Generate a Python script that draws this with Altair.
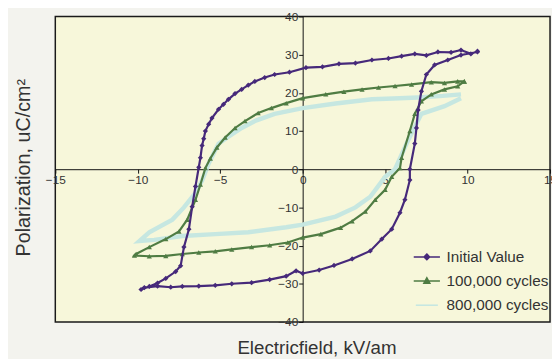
import altair as alt
import pandas as pd

# ---- data ----
series_names = ["Initial Value", "100,000 cycles", "800,000 cycles"]
series_colors = ["#46297a", "#4f7c43", "#c6e7e1"]

x_ticks = [-15, -10, -5, 0, 5, 10, 15]
y_ticks = [-40, -30, -20, -10, 0, 10, 20, 30, 40]

init_E = [10.6, 10.2, 9.6, 9.0, 8.2, 7.5, 6.8, 6.0, 5.2, 4.2, 3.2, 2.2, 1.2, 0.2, -0.8, -1.7,
          -2.3, -2.9, -3.3, -3.7, -4.1, -4.5, -4.8, -5.1, -5.5, -5.7, -5.9, -6.0, -6.1, -6.2,
          -6.3, -6.5, -6.7, -6.9, -7.2, -7.4, -7.7, -8.3, -8.8, -9.3, -9.8,
          -9.6, -8.8, -8.0, -7.3, -6.3, -5.3, -4.3, -3.1, -2.0, -1.0, -0.4, 0.0, 1.0, 1.9, 3.0,
          4.1, 4.8, 5.4, 5.9, 6.2, 6.5, 6.5, 6.8, 6.9, 7.0, 7.2, 7.5, 8.0, 8.8, 9.6, 10.6]
init_P = [30.9, 30.2, 31.2, 30.6, 30.7, 29.8, 30.2, 29.6, 29.0, 28.6, 27.8, 27.6, 26.8, 26.6, 25.4, 24.8,
          24.0, 23.0, 22.0, 20.9, 19.8, 18.3, 17.0, 15.7, 13.4, 11.8, 10.0, 8.0, 6.2, 3.0,
          0.5, -4.5, -9.8, -15.7, -20.4, -25.3, -26.8, -28.6, -29.8, -30.7, -31.5,
          -31.0, -30.6, -30.9, -30.7, -30.6, -30.4, -30.0, -29.7, -28.9, -28.0, -26.6, -27.3, -26.4, -25.2, -23.5,
          -21.4, -18.3, -15.7, -11.4, -8.0, -2.8, 0.0, 6.7, 10.8, 15.5, 20.4, 24.8, 27.3, 28.6, 29.9, 30.7]

k100_E = [9.8, 9.4, 8.6, 7.8, 6.6, 5.6, 4.6, 3.6, 2.5, 1.4, 0.0, -1.0, -1.9, -2.7, -3.5, -4.1,
          -4.7, -5.2, -5.6, -5.9, -6.2, -6.5, -7.0, -7.5, -8.3, -9.3, -10.1, -10.2,
          -9.3, -8.3, -7.3, -6.3, -5.3, -4.3, -3.1, -2.0, -0.9, 0.0, 1.1, 2.3, 3.0, 3.8,
          4.4, 5.0, 5.4, 5.9, 6.0, 6.5, 6.8, 7.2, 7.8, 8.6, 9.4, 9.8]
k100_P = [23.0, 23.0, 22.6, 22.8, 22.2, 21.8, 21.4, 20.9, 20.3, 19.6, 18.6, 17.3, 16.0, 14.7, 12.6, 10.8,
          8.3, 5.7, 2.8, 0.3, -4.0, -8.0, -13.2, -16.3, -18.3, -20.4, -22.2, -22.6,
          -22.8, -22.7, -22.2, -21.8, -21.5, -21.0, -20.4, -19.9, -19.2, -17.9, -17.0, -15.3, -13.6, -11.1,
          -8.0, -5.4, -2.0, 0.3, 3.0, 10.0, 14.5, 17.8, 19.6, 20.9, 21.7, 23.0]

k800_E = [9.6, 8.5, 7.0, 5.5, 4.2, 2.0, 0.0, -1.7, -2.8, -3.7, -4.5, -5.1, -5.7, -6.1, -6.5,
          -7.2, -7.9, -9.3, -9.9,
          -9.0, -7.3, -5.3, -3.3, -1.0, 0.0, 2.0, 3.2, 4.1, 5.0, 5.6, 6.3, 7.2, 8.6, 9.6]
k800_P = [19.6, 19.2, 18.8, 18.5, 18.3, 17.2, 16.0, 14.5, 12.8, 10.8, 8.5, 6.7, 1.5, -3.0, -6.2,
          -10.0, -13.2, -16.5, -18.8,
          -18.5, -17.5, -17.0, -16.5, -15.2, -14.5, -12.4, -10.0, -7.2, -2.0, 0.0, 6.7, 14.5, 16.5, 18.6]

# legend symbols: a short line with the series marker on it
legend_shapes = ["M-1.9,0H1.9M0,-0.4L0.4,0L0,0.4L-0.4,0Z",
                 "M-1.9,0H1.9M0,-0.45L0.42,0.3L-0.42,0.3Z",
                 "M-1.6,0H1.6"]

# ---- table ----
rows = []
for name, es, ps in [(series_names[2], k800_E, k800_P),
                     (series_names[1], k100_E, k100_P),
                     (series_names[0], init_E, init_P)]:
    for i, (e, p) in enumerate(zip(es, ps)):
        rows.append({"E": e, "P": p, "series": name, "idx": i})
df = pd.DataFrame(rows)

FONT = "Liberation Sans"
W, H = 502, 310

x_axis = alt.Axis(orient="bottom", offset=-155, values=x_ticks, grid=False,
                  tickSize=4, tickColor="#111", domainColor="#111", domainWidth=1,
                  labelFlush=False, labelOverlap=False, labelPadding=2, labelFontSize=12,
                  labelColor="#333", labelFont=FONT,
                  title="Electricfield, kV/am", titleX=265, titleY=181,
                  titleBaseline="middle", titleFontSize=19, titleFontWeight="normal",
                  titleColor="#333", titleFont=FONT)
y_axis = alt.Axis(orient="left", offset=-251, values=y_ticks, grid=False,
                  tickSize=4, tickColor="#111", domainColor="#111", domainWidth=1,
                  labelOverlap=False, labelFlush=False,
                  labelPadding=1, labelFontSize=12, labelColor="#333", labelFont=FONT,
                  title="Polarization, uC/cm²", titleX=-283, titleY=153,
                  titleAngle=270, titleAlign="center", titleBaseline="middle",
                  titleFontSize=20, titleFontWeight="normal",
                  titleColor="#333", titleFont=FONT)

x_enc = alt.X("E:Q", scale=alt.Scale(domain=[-15, 15], nice=False, zero=False), axis=x_axis)
y_enc = alt.Y("P:Q", scale=alt.Scale(domain=[-40, 40], nice=False, zero=False), axis=y_axis)

leg = alt.Legend(orient="none", legendX=369, legendY=236, title=None,
                 padding=0, symbolSize=196, labelOffset=12, symbolStrokeWidth=1.6,
                 symbolOpacity=1, rowPadding=7.5, labelFont=FONT, labelFontSize=15.5,
                 labelColor="#333")

color_scale = alt.Scale(domain=series_names, range=series_colors)
color_enc = alt.Color("series:N", scale=color_scale, legend=leg)


def subset(name):
    return alt.Chart(df).transform_filter(alt.datum.series == name)


line800 = subset(series_names[2]).mark_line(strokeWidth=4.5).encode(
    x=x_enc, y=y_enc, color=color_enc, order="idx:Q")
line100 = subset(series_names[1]).mark_line(strokeWidth=2.2).encode(
    x=x_enc, y=y_enc, color=color_enc, order="idx:Q")
lineInit = subset(series_names[0]).mark_line(strokeWidth=2.2).encode(
    x=x_enc, y=y_enc, color=color_enc, order="idx:Q")

pts100 = subset(series_names[1]).mark_point(
    filled=True, size=28, shape="triangle-up", opacity=1).encode(
    x=x_enc, y=y_enc, color=color_enc)
ptsInit = subset(series_names[0]).mark_point(
    filled=True, size=28, shape="diamond", opacity=1).encode(
    x=x_enc, y=y_enc, color=color_enc)

legend_layer = alt.Chart(df).transform_filter(
    alt.datum.idx < 0
).mark_point(filled=False, strokeWidth=1.6, opacity=1).encode(
    x=x_enc, y=y_enc, color=color_enc,
    shape=alt.Shape("series:N", scale=alt.Scale(domain=series_names, range=legend_shapes),
                    legend=leg))

chart = alt.layer(line800, line100, pts100, lineInit, ptsInit, legend_layer).properties(
    width=W, height=H,
    background="#f3f3ee",
    autosize=alt.AutoSizeParams(type="none"),
    padding={"left": 48, "top": 6, "right": 2, "bottom": 35},
).configure_view(fill="#f7f7da", stroke="#1a1a1a", strokeWidth=1.5
).configure_axis(labelOverlap=False)

chart.save("out.html", embed_options={"renderer": "svg", "actions": False})
